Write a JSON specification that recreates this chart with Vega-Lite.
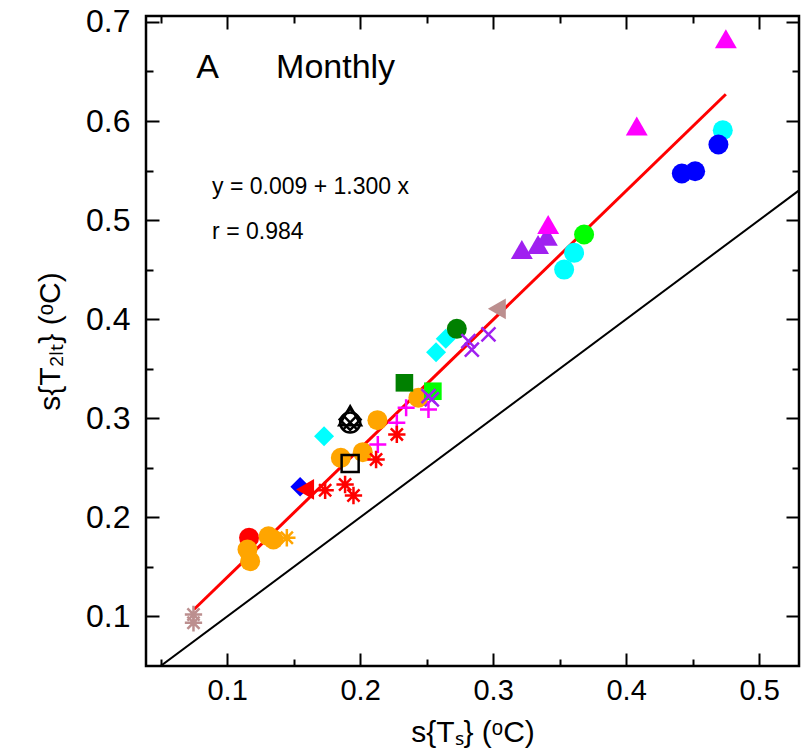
{
  "$schema": "https://vega.github.io/schema/vega-lite/v6.json",
  "width": 653,
  "height": 650,
  "autosize": {"type": "none"},
  "padding": {"left": 146, "top": 16, "right": 2, "bottom": 89},
  "background": "white",
  "config": {
    "font": "Liberation Sans",
    "view": {"stroke": "black", "strokeWidth": 2.5},
    "axis": {
      "domain": false,
      "grid": false,
      "tickColor": "black",
      "tickWidth": 2,
      "labelColor": "black",
      "labelFont": "Liberation Sans",
      "titleFont": "Liberation Sans",
      "titleFontWeight": "normal",
      "titleColor": "black",
      "zindex": 1
    }
  },
  "datasets": {
    "points": [
      {"g": "red_circ", "x": 0.1165, "y": 0.1794},
      {"g": "orange_circ", "x": 0.1153, "y": 0.1676},
      {"g": "orange_circ", "x": 0.1173, "y": 0.1558},
      {"g": "orange_circ", "x": 0.1311, "y": 0.181},
      {"g": "orange_circ", "x": 0.1348, "y": 0.1777},
      {"g": "orange_circ", "x": 0.1855, "y": 0.2601},
      {"g": "orange_circ", "x": 0.202, "y": 0.2658},
      {"g": "orange_circ", "x": 0.213, "y": 0.2981},
      {"g": "orange_circ", "x": 0.2438, "y": 0.3207},
      {"g": "blue_dia", "x": 0.1549, "y": 0.2309},
      {"g": "red_tril", "x": 0.1586, "y": 0.2282},
      {"g": "cyan_dia", "x": 0.1729, "y": 0.2819},
      {"g": "cyan_dia", "x": 0.2571, "y": 0.3667},
      {"g": "cyan_dia", "x": 0.2644, "y": 0.3802},
      {"g": "dgreen_sq", "x": 0.2333, "y": 0.3358},
      {"g": "lime_sq", "x": 0.2547, "y": 0.3273},
      {"g": "dgreen_circ", "x": 0.2727, "y": 0.3903},
      {"g": "brown_tril", "x": 0.3028, "y": 0.4105},
      {"g": "pur_tri", "x": 0.3216, "y": 0.4703},
      {"g": "pur_tri", "x": 0.3338, "y": 0.4754},
      {"g": "pur_tri", "x": 0.3404, "y": 0.4838},
      {"g": "mag_tri", "x": 0.3414, "y": 0.4956},
      {"g": "mag_tri", "x": 0.408, "y": 0.595},
      {"g": "mag_tri", "x": 0.475, "y": 0.683},
      {"g": "cyan_circ", "x": 0.3534, "y": 0.4501},
      {"g": "cyan_circ", "x": 0.3609, "y": 0.467},
      {"g": "lime_circ", "x": 0.3684, "y": 0.4855},
      {"g": "blue_circ", "x": 0.4419, "y": 0.547},
      {"g": "blue_circ", "x": 0.4519, "y": 0.5493},
      {"g": "cyan_circ", "x": 0.4727, "y": 0.5907},
      {"g": "blue_circ", "x": 0.4694, "y": 0.5763},
      {"g": "pur_x", "x": 0.2965, "y": 0.3846},
      {"g": "pur_x", "x": 0.2814, "y": 0.3778},
      {"g": "pur_x", "x": 0.284, "y": 0.3694},
      {"g": "pur_x", "x": 0.2514, "y": 0.3223},
      {"g": "pur_x", "x": 0.2539, "y": 0.319},
      {"g": "mag_plus", "x": 0.2346, "y": 0.3106},
      {"g": "mag_plus", "x": 0.2514, "y": 0.3089},
      {"g": "mag_plus", "x": 0.2276, "y": 0.2955},
      {"g": "mag_plus", "x": 0.2133, "y": 0.2736},
      {"g": "red_ast", "x": 0.2276, "y": 0.2837},
      {"g": "red_ast", "x": 0.212, "y": 0.2584},
      {"g": "red_ast", "x": 0.1887, "y": 0.2332},
      {"g": "red_ast", "x": 0.195, "y": 0.2221},
      {"g": "red_ast", "x": 0.1737, "y": 0.2274},
      {"g": "orange_ast", "x": 0.1449, "y": 0.1794},
      {"g": "brown_ast", "x": 0.0747, "y": 0.102},
      {"g": "brown_ast", "x": 0.0747, "y": 0.0936},
      {"g": "black_sq", "x": 0.1925, "y": 0.2544},
      {"g": "black_circ", "x": 0.1925, "y": 0.2958},
      {"g": "black_x", "x": 0.1925, "y": 0.2958},
      {"g": "black_tri", "x": 0.1925, "y": 0.3025},
      {"g": "black_dia", "x": 0.1925, "y": 0.2988}
    ],
    "fit": [
      {"x": 0.075, "y": 0.107},
      {"x": 0.475, "y": 0.627}
    ],
    "ident": [
      {"x": 0.039, "y": 0.039},
      {"x": 0.53, "y": 0.53}
    ]
  },
  "layer": [
    {
      "data": {"name": "ident"},
      "mark": {"type": "line", "color": "black", "strokeWidth": 2, "clip": true},
      "encoding": {
        "x": {
          "field": "x", "type": "quantitative",
          "scale": {"domain": [0.039, 0.53], "nice": false, "zero": false},
          "axis": {
            "orient": "bottom",
            "values": [0.1, 0.2, 0.3, 0.4, 0.5],
            "format": ".1f",
            "offset": -13,
            "tickSize": 13,
            "labelFontSize": 29,
            "labelPadding": 10,
            "title": "s{Tₛ} (ᵒC)",
            "titleFontSize": 30,
            "titlePadding": 12
          }
        },
        "y": {
          "field": "y", "type": "quantitative",
          "scale": {"domain": [0.05, 0.706], "nice": false, "zero": false},
          "axis": {
            "orient": "left",
            "values": [0.1, 0.2, 0.3, 0.4, 0.5, 0.6, 0.7],
            "format": ".1f",
            "offset": -13,
            "tickSize": 13,
            "labelFontSize": 32,
            "labelPadding": 16,
            "title": "s{T₂ₗₜ} (ᵒC)",
            "titleFontSize": 30,
            "titlePadding": 20
          }
        }
      }
    },
    {
      "data": {"name": "fit"},
      "mark": {"type": "line", "color": "#ff0000", "strokeWidth": 3},
      "encoding": {
        "x": {
          "field": "x", "type": "quantitative",
          "scale": {"domain": [0.039, 0.53], "nice": false, "zero": false},
          "axis": {
            "orient": "top",
            "values": [0.1, 0.2, 0.3, 0.4, 0.5],
            "labels": false,
            "offset": -13,
            "tickSize": 13,
            "title": null
          }
        },
        "y": {
          "field": "y", "type": "quantitative",
          "scale": {"domain": [0.05, 0.706], "nice": false, "zero": false},
          "axis": {
            "orient": "right",
            "values": [0.1, 0.2, 0.3, 0.4, 0.5, 0.6, 0.7],
            "labels": false,
            "offset": -13,
            "tickSize": 13,
            "title": null
          }
        }
      }
    },
    {
      "data": {"name": "points"},
      "transform": [{"filter": {"field": "g", "oneOf": ["red_circ", "orange_circ", "blue_dia", "red_tril", "cyan_dia", "dgreen_sq", "lime_sq", "dgreen_circ", "brown_tril", "pur_tri", "mag_tri", "cyan_circ", "lime_circ", "blue_circ"]}}],
      "mark": {"type": "point", "filled": true, "opacity": 1, "strokeWidth": 0},
      "encoding": {
        "x": {"field": "x", "type": "quantitative", "scale": {"domain": [0.039, 0.53], "nice": false, "zero": false},
          "axis": {"orient": "bottom", "values": [0.05, 0.15, 0.25, 0.35, 0.45], "labels": false, "offset": -7, "tickSize": 7, "title": null}},
        "y": {"field": "y", "type": "quantitative", "scale": {"domain": [0.05, 0.706], "nice": false, "zero": false},
          "axis": {"orient": "left", "values": [0.15, 0.25, 0.35, 0.45, 0.55, 0.65], "labels": false, "offset": -7, "tickSize": 7, "title": null}},
        "color": {
          "field": "g", "type": "nominal", "legend": null,
          "scale": {
            "domain": ["red_circ", "orange_circ", "blue_dia", "red_tril", "cyan_dia", "dgreen_sq", "lime_sq", "dgreen_circ", "brown_tril", "pur_tri", "mag_tri", "cyan_circ", "lime_circ", "blue_circ", "pur_x", "mag_plus", "red_ast", "orange_ast", "brown_ast", "black_sq", "black_circ", "black_x", "black_tri", "black_dia"],
            "range": ["#ff0000", "#ffa500", "#0000ff", "#ff0000", "#00ffff", "#008000", "#00ff00", "#008000", "#bc8f8f", "#a020f0", "#ff00ff", "#00ffff", "#00ff00", "#0000ff", "#a020f0", "#ff00ff", "#ff0000", "#ffa500", "#bc8f8f", "#000000", "#000000", "#000000", "#000000", "#000000"]
          }
        },
        "shape": {
          "field": "g", "type": "nominal", "legend": null,
          "scale": {
            "domain": ["red_circ", "orange_circ", "blue_dia", "red_tril", "cyan_dia", "dgreen_sq", "lime_sq", "dgreen_circ", "brown_tril", "pur_tri", "mag_tri", "cyan_circ", "lime_circ", "blue_circ", "pur_x", "mag_plus", "red_ast", "orange_ast", "brown_ast", "black_sq", "black_circ", "black_x", "black_tri", "black_dia"],
            "range": ["circle", "circle", "diamond", "triangle-left", "diamond", "square", "square", "circle", "triangle-left", "triangle-up", "triangle-up", "circle", "circle", "circle", "M-1,-1L1,1M-1,1L1,-1", "M0,-1L0,1M-1,0L1,0", "M0,-1L0,1M-1,0L1,0M-0.7,-0.7L0.7,0.7M-0.7,0.7L0.7,-0.7", "M0,-1L0,1M-1,0L1,0M-0.7,-0.7L0.7,0.7M-0.7,0.7L0.7,-0.7", "M0,-1L0,1M-1,0L1,0M-0.7,-0.7L0.7,0.7M-0.7,0.7L0.7,-0.7", "square", "circle", "M-1,-1L1,1M-1,1L1,-1", "triangle-up", "diamond"]
          }
        },
        "size": {
          "field": "g", "type": "nominal", "legend": null,
          "scale": {
            "type": "ordinal",
            "domain": ["red_circ", "orange_circ", "blue_dia", "red_tril", "cyan_dia", "dgreen_sq", "lime_sq", "dgreen_circ", "brown_tril", "pur_tri", "mag_tri", "cyan_circ", "lime_circ", "blue_circ", "pur_x", "mag_plus", "red_ast", "orange_ast", "brown_ast", "black_sq", "black_circ", "black_x", "black_tri", "black_dia"],
            "range": [400, 400, 380, 430, 400, 310, 310, 400, 430, 480, 480, 400, 400, 400, 196, 289, 300, 300, 300, 290, 400, 200, 480, 440]
          }
        }
      }
    },
    {
      "data": {"name": "points"},
      "transform": [{"filter": {"field": "g", "oneOf": ["pur_x", "mag_plus", "red_ast", "orange_ast", "brown_ast", "black_sq", "black_circ", "black_x", "black_tri", "black_dia"]}}],
      "mark": {"type": "point", "filled": false, "opacity": 1, "strokeWidth": 2.5},
      "encoding": {
        "x": {"field": "x", "type": "quantitative", "scale": {"domain": [0.039, 0.53], "nice": false, "zero": false},
          "axis": {"orient": "top", "values": [0.05, 0.15, 0.25, 0.35, 0.45], "labels": false, "offset": -7, "tickSize": 7, "title": null}},
        "y": {"field": "y", "type": "quantitative", "scale": {"domain": [0.05, 0.706], "nice": false, "zero": false},
          "axis": {"orient": "right", "values": [0.15, 0.25, 0.35, 0.45, 0.55, 0.65], "labels": false, "offset": -7, "tickSize": 7, "title": null}},
        "color": {
          "field": "g", "type": "nominal", "legend": null,
          "scale": {
            "domain": ["red_circ", "orange_circ", "blue_dia", "red_tril", "cyan_dia", "dgreen_sq", "lime_sq", "dgreen_circ", "brown_tril", "pur_tri", "mag_tri", "cyan_circ", "lime_circ", "blue_circ", "pur_x", "mag_plus", "red_ast", "orange_ast", "brown_ast", "black_sq", "black_circ", "black_x", "black_tri", "black_dia"],
            "range": ["#ff0000", "#ffa500", "#0000ff", "#ff0000", "#00ffff", "#008000", "#00ff00", "#008000", "#bc8f8f", "#a020f0", "#ff00ff", "#00ffff", "#00ff00", "#0000ff", "#a020f0", "#ff00ff", "#ff0000", "#ffa500", "#bc8f8f", "#000000", "#000000", "#000000", "#000000", "#000000"]
          }
        },
        "shape": {
          "field": "g", "type": "nominal", "legend": null,
          "scale": {
            "domain": ["red_circ", "orange_circ", "blue_dia", "red_tril", "cyan_dia", "dgreen_sq", "lime_sq", "dgreen_circ", "brown_tril", "pur_tri", "mag_tri", "cyan_circ", "lime_circ", "blue_circ", "pur_x", "mag_plus", "red_ast", "orange_ast", "brown_ast", "black_sq", "black_circ", "black_x", "black_tri", "black_dia"],
            "range": ["circle", "circle", "diamond", "triangle-left", "diamond", "square", "square", "circle", "triangle-left", "triangle-up", "triangle-up", "circle", "circle", "circle", "M-1,-1L1,1M-1,1L1,-1", "M0,-1L0,1M-1,0L1,0", "M0,-1L0,1M-1,0L1,0M-0.7,-0.7L0.7,0.7M-0.7,0.7L0.7,-0.7", "M0,-1L0,1M-1,0L1,0M-0.7,-0.7L0.7,0.7M-0.7,0.7L0.7,-0.7", "M0,-1L0,1M-1,0L1,0M-0.7,-0.7L0.7,0.7M-0.7,0.7L0.7,-0.7", "square", "circle", "M-1,-1L1,1M-1,1L1,-1", "triangle-up", "diamond"]
          }
        },
        "size": {
          "field": "g", "type": "nominal", "legend": null,
          "scale": {
            "type": "ordinal",
            "domain": ["red_circ", "orange_circ", "blue_dia", "red_tril", "cyan_dia", "dgreen_sq", "lime_sq", "dgreen_circ", "brown_tril", "pur_tri", "mag_tri", "cyan_circ", "lime_circ", "blue_circ", "pur_x", "mag_plus", "red_ast", "orange_ast", "brown_ast", "black_sq", "black_circ", "black_x", "black_tri", "black_dia"],
            "range": [400, 400, 380, 430, 400, 310, 310, 400, 430, 480, 480, 400, 400, 400, 196, 289, 300, 300, 300, 290, 400, 200, 480, 440]
          }
        }
      }
    },
    {
      "data": {"values": [{}]},
      "mark": {"type": "text", "text": "A", "align": "left", "baseline": "middle", "fontSize": 34, "font": "Liberation Sans", "color": "black"},
      "encoding": {
        "x": {"datum": 0.0767, "type": "quantitative", "scale": {"domain": [0.039, 0.53], "nice": false, "zero": false}, "axis": null},
        "y": {"datum": 0.654, "type": "quantitative", "scale": {"domain": [0.05, 0.706], "nice": false, "zero": false}, "axis": null}
      }
    },
    {
      "data": {"values": [{}]},
      "mark": {"type": "text", "text": "Monthly", "align": "left", "baseline": "middle", "fontSize": 34, "font": "Liberation Sans", "color": "black"},
      "encoding": {
        "x": {"datum": 0.1368, "type": "quantitative", "scale": {"domain": [0.039, 0.53], "nice": false, "zero": false}, "axis": null},
        "y": {"datum": 0.654, "type": "quantitative", "scale": {"domain": [0.05, 0.706], "nice": false, "zero": false}, "axis": null}
      }
    },
    {
      "data": {"values": [{}]},
      "mark": {"type": "text", "text": "y = 0.009 + 1.300 x", "align": "left", "baseline": "middle", "fontSize": 23, "font": "Liberation Sans", "color": "black"},
      "encoding": {
        "x": {"datum": 0.0887, "type": "quantitative", "scale": {"domain": [0.039, 0.53], "nice": false, "zero": false}, "axis": null},
        "y": {"datum": 0.5339, "type": "quantitative", "scale": {"domain": [0.05, 0.706], "nice": false, "zero": false}, "axis": null}
      }
    },
    {
      "data": {"values": [{}]},
      "mark": {"type": "text", "text": "r = 0.984", "align": "left", "baseline": "middle", "fontSize": 23, "font": "Liberation Sans", "color": "black"},
      "encoding": {
        "x": {"datum": 0.0887, "type": "quantitative", "scale": {"domain": [0.039, 0.53], "nice": false, "zero": false}, "axis": null},
        "y": {"datum": 0.4885, "type": "quantitative", "scale": {"domain": [0.05, 0.706], "nice": false, "zero": false}, "axis": null}
      }
    }
  ],
  "resolve": {"axis": {"x": "independent", "y": "independent"}}
}
